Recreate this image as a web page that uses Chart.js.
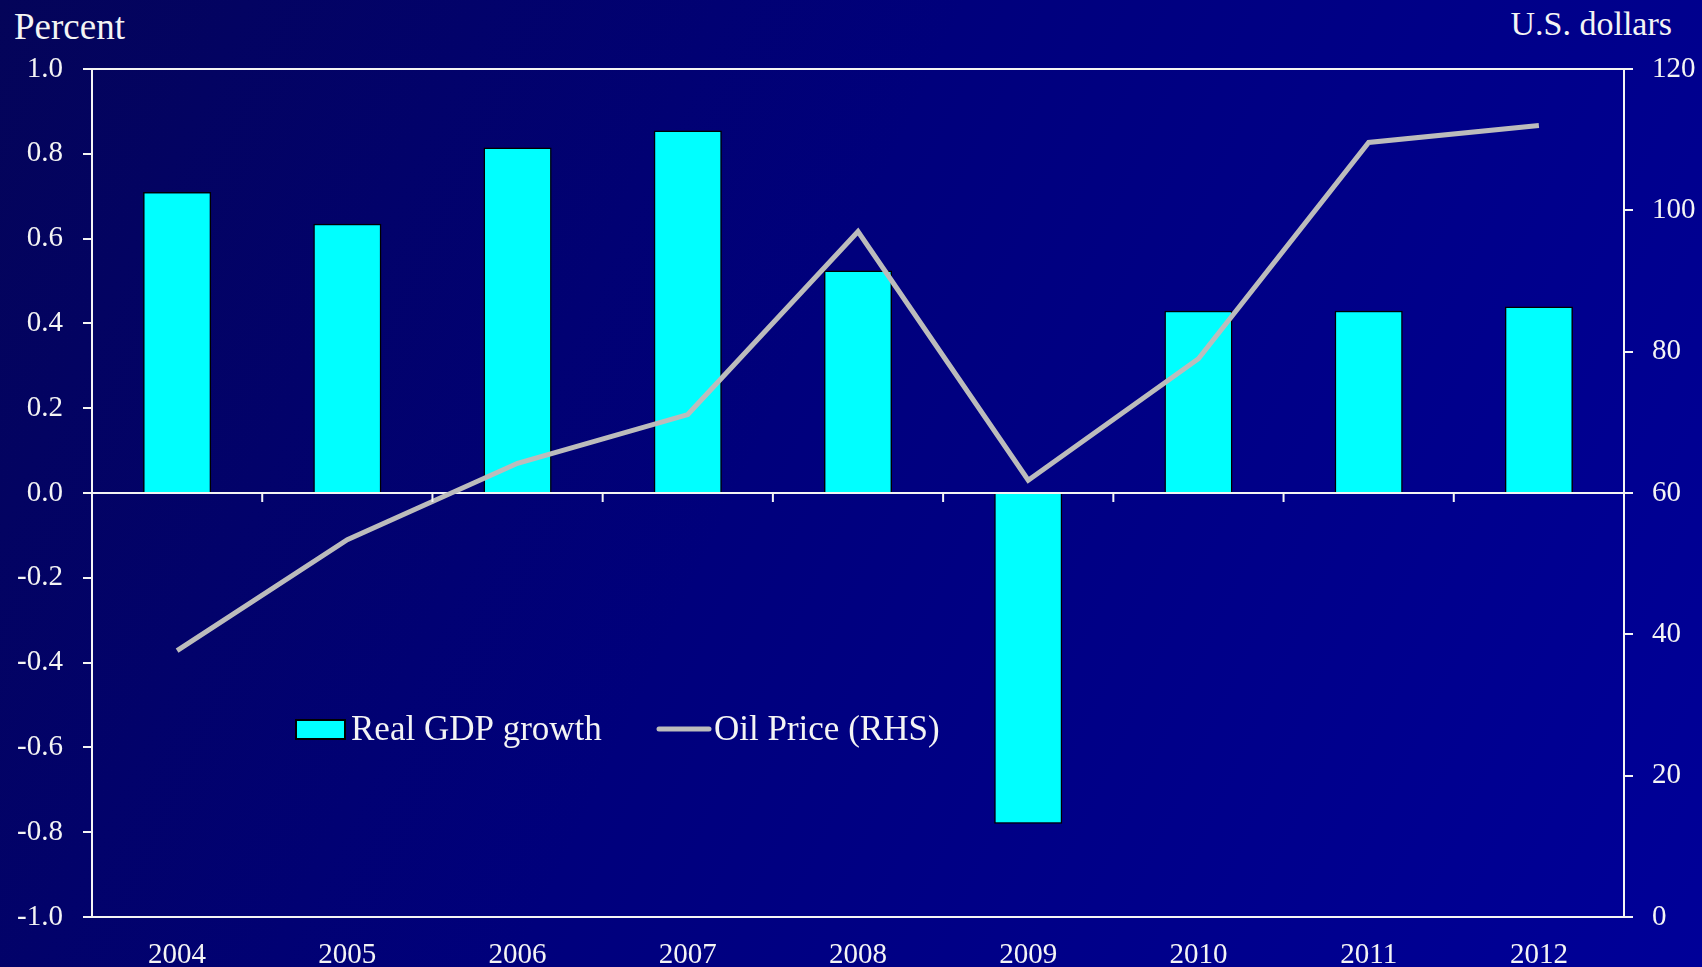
<!DOCTYPE html>
<html>
<head>
<meta charset="utf-8">
<script src="https://cdn.jsdelivr.net/npm/chart.js@4"></script>
<style>
  html, body { margin: 0; padding: 0; }
  body {
    width: 1702px; height: 967px; overflow: hidden; position: relative;
    background: linear-gradient(115deg, #040459 0%, #00007c 45%, #000098 100%);
    font-family: "Liberation Serif", "DejaVu Serif", serif;
  }
  #wrap { position: absolute; left: 0; top: 0; width: 1702px; height: 967px; }
  .axisTitle { position: absolute; color: #f4f4f4; line-height: 1; }
</style>
</head>
<body>
<div class="axisTitle" style="left:14px; top:8px; font-size:37px;">Percent</div>
<div class="axisTitle" style="right:30px; top:7px; font-size:34px;">U.S. dollars</div>
<div id="wrap"><canvas id="chart" width="1702" height="967"></canvas></div>
<script>
// Data
const years = ['2004', '2005', '2006', '2007', '2008', '2009', '2010', '2011', '2012'];
const gdpGrowth = [0.71, 0.635, 0.815, 0.855, 0.525, -0.78, 0.43, 0.43, 0.44];
const oilPrice = [37.7, 53.4, 64.2, 71.1, 97.0, 61.8, 79.0, 109.6, 112.0];

const white = '#f4f4f4';
const fontFamily = '"Liberation Serif", "DejaVu Serif", serif';

// small down ticks on the zero line between categories
const zeroTicks = {
    id: 'zeroTicks',
    afterDatasetsDraw(chart) {
        const ctx = chart.ctx;
        const x = chart.scales.x;
        const y0 = chart.scales.y.getPixelForValue(0);
        ctx.save();
        ctx.strokeStyle = white;
        ctx.lineWidth = 2;
        for (let i = 0; i < years.length - 1; i++) {
            const px = (x.getPixelForTick(i) + x.getPixelForTick(i + 1)) / 2;
            ctx.beginPath();
            ctx.moveTo(px, y0);
            ctx.lineTo(px, y0 + 9);
            ctx.stroke();
        }
        ctx.restore();
    }
};

// legend drawn inside the plot
const innerLegend = {
    id: 'innerLegend',
    afterDraw(chart) {
        const ctx = chart.ctx;
        const line = chart.data.datasets[0];
        const bars = chart.data.datasets[1];
        ctx.save();
        ctx.font = '35px ' + fontFamily;
        ctx.textBaseline = 'alphabetic';
        ctx.fillStyle = bars.backgroundColor;
        ctx.fillRect(296, 720, 49, 19);
        ctx.strokeStyle = '#000';
        ctx.lineWidth = 2;
        ctx.strokeRect(296, 720, 49, 19);
        ctx.fillStyle = white;
        ctx.fillText(bars.label, 351, 740);

        ctx.strokeStyle = line.borderColor;
        ctx.lineWidth = 5;
        ctx.lineCap = 'round';
        ctx.beginPath();
        ctx.moveTo(659, 729);
        ctx.lineTo(709, 729);
        ctx.stroke();
        ctx.fillText(line.label, 714, 740);
        ctx.restore();
    }
};

new Chart(document.getElementById('chart'), {
    data: {
        labels: years,
        datasets: [{
            type: 'line',
            label: 'Oil Price (RHS)',
            data: oilPrice,
            yAxisID: 'y1',
            borderColor: '#bcbcbc',
            borderWidth: 5,
            pointRadius: 0,
            tension: 0,
            order: 0
        }, {
            type: 'bar',
            label: 'Real GDP growth',
            data: gdpGrowth,
            yAxisID: 'y',
            backgroundColor: '#00ffff',
            borderColor: '#000000',
            borderWidth: 1.5,
            borderSkipped: 'start',
            barPercentage: 0.4,
            categoryPercentage: 1.0,
            order: 1
        }]
    },
    options: {
        responsive: false,
        animation: false,
        layout: { padding: { left: 0, right: 0, top: 69, bottom: 0 } },
        plugins: {
            legend: { display: false },
            tooltip: { enabled: false }
        },
        scales: {
            x: {
                position: 'bottom',
                grid: { display: false },
                border: { display: false },
                ticks: {
                    color: white,
                    font: { family: fontFamily, size: 29 },
                    padding: 13,
                    maxRotation: 0
                },
                afterFit(scale) { scale.height = 50; }
            },
            y: {
                position: 'left',
                min: -1, max: 1,
                border: { display: true, color: white, width: 2 },
                grid: {
                    drawOnChartArea: true,
                    color: c => (Math.abs(c.tick.value) > 0.99 || Math.abs(c.tick.value) < 0.01) ? white : 'transparent',
                    tickColor: white,
                    tickLength: 9,
                    lineWidth: 2
                },
                ticks: {
                    stepSize: 0.2,
                    color: white,
                    font: { family: fontFamily, size: 29 },
                    padding: 20,
                    callback: v => (Math.abs(v) < 0.001 ? 0 : v).toFixed(1)
                },
                afterFit(scale) { scale.width = 92; }
            },
            y1: {
                position: 'right',
                min: 0, max: 120,
                border: { display: true, color: white, width: 2 },
                grid: {
                    drawOnChartArea: false,
                    tickColor: white,
                    tickLength: 9,
                    lineWidth: 2
                },
                ticks: {
                    stepSize: 20,
                    color: white,
                    font: { family: fontFamily, size: 29 },
                    padding: 19
                },
                afterFit(scale) { scale.width = 78; }
            }
        }
    },
    plugins: [zeroTicks, innerLegend]
});
</script>
</body>
</html>
